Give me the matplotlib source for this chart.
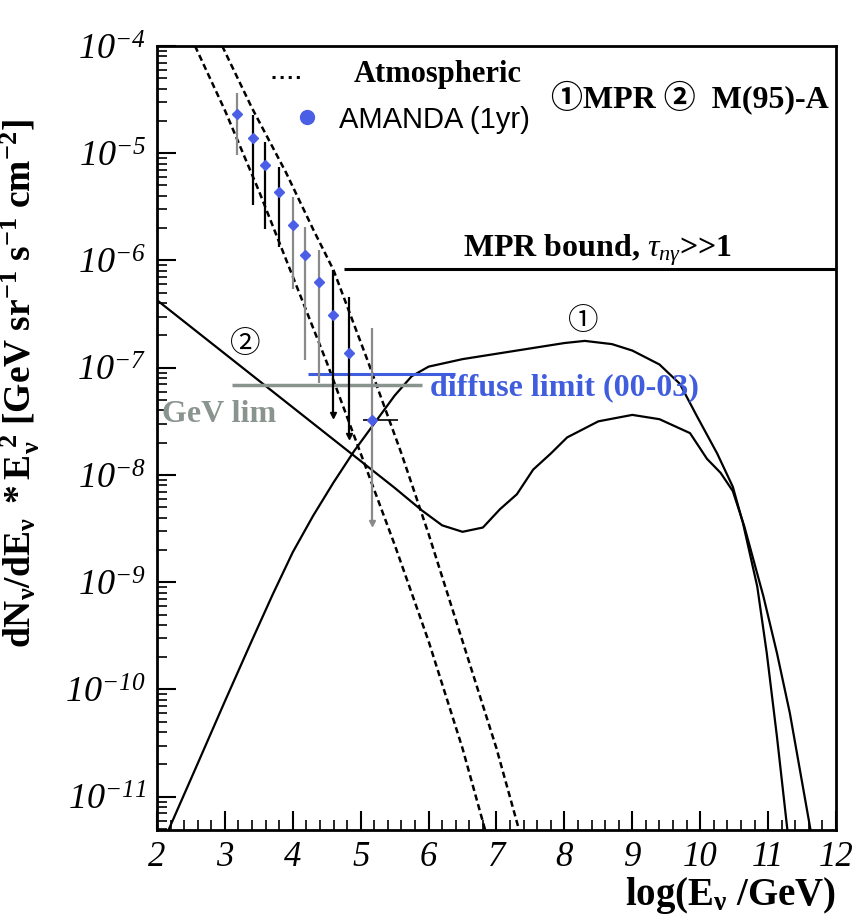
import numpy as np
import matplotlib
matplotlib.use("Agg")
import matplotlib.pyplot as plt
from matplotlib.ticker import FixedLocator, MultipleLocator, LogLocator, NullFormatter

plt.rcParams['mathtext.fontset'] = 'custom'
plt.rcParams['mathtext.rm'] = 'Liberation Serif'
plt.rcParams['mathtext.it'] = 'Liberation Serif:italic'
plt.rcParams['mathtext.bf'] = 'Liberation Serif:bold'
plt.rcParams['mathtext.sf'] = 'Liberation Serif:italic'
serif = ['Liberation Serif', 'Noto Sans CJK JP', 'DejaVu Sans']

# atmospheric band (log10 of flux)
atm_lo_x = [2.56, 3.0, 3.5, 4.0, 4.5, 5.0, 5.5, 6.0, 6.5, 6.85]
atm_lo_exp = [-4.0, -4.6, -5.35, -6.15, -6.95, -7.8, -8.65, -9.55, -10.55, -11.35]
atm_hi_x = [2.96, 3.4, 3.9, 4.3, 4.6, 5.1, 5.6, 6.0, 6.5, 7.0, 7.35]
atm_hi_exp = [-4.0, -4.58, -5.18, -5.71, -6.09, -6.93, -7.8, -8.55, -9.55, -10.55, -11.35]

# (1) MPR
mpr_x = [2.17, 2.6, 3.0, 3.4, 3.7, 4.0, 4.3, 4.6, 4.9, 5.2, 5.5, 5.75, 6.0, 6.5, 7.0, 7.5,
         8.0, 8.3, 8.7, 9.0, 9.4, 9.7, 9.95, 10.25, 10.48, 10.63, 10.84, 10.98, 11.13, 11.3]
mpr_exp = [-11.31, -10.69, -10.11, -9.54, -9.12, -8.72, -8.38, -8.07, -7.78, -7.52, -7.26, -7.08,
           -6.99, -6.92, -6.87, -6.82, -6.77, -6.75, -6.78, -6.84, -6.97, -7.15, -7.45, -7.80,
           -8.11, -8.45, -9.04, -9.66, -10.44, -11.4]

# (2) M(95)-A
m95_x = [2.0, 3.0, 4.0, 5.0, 5.5, 5.9, 6.2, 6.5, 6.8, 7.05, 7.3, 7.54, 7.8, 8.04, 8.5, 9.0,
         9.4, 9.85, 10.1, 10.3, 10.48, 10.65, 10.93, 11.13, 11.32, 11.65]
m95_exp = [-6.37, -6.87, -7.37, -7.87, -8.12, -8.33, -8.47, -8.53, -8.49, -8.32, -8.18, -7.95,
           -7.80, -7.65, -7.50, -7.44, -7.48, -7.61, -7.85, -7.98, -8.15, -8.48, -9.13, -9.66,
           -10.22, -11.4]

# AMANDA (1yr)
amanda_x = [3.18, 3.41, 3.59, 3.79, 4.0, 4.18, 4.39, 4.59, 4.83, 5.16]
amanda_exp = [-4.63, -4.86, -5.11, -5.36, -5.67, -5.95, -6.20, -6.51, -6.86, -7.49]
amanda_top = [-4.44, -4.64, -4.90, -5.13, -5.41, -5.69, -5.90, -6.09, -6.34, -6.63]
amanda_bot = [-5.02, -5.48, -5.71, -5.87, -6.27, -6.93, -7.14, -7.44, -7.64, -8.45]
amanda_limit = [False, False, False, False, False, False, False, True, True, True]
bar_colors = ['#8a8a8a', 'black', 'black', 'black', '#8a8a8a', '#8a8a8a', '#8a8a8a',
              'black', 'black', '#8a8a8a']

# horizontal limits
mpr_bound = (4.75, 12.0, -6.08)
diffuse_lim = (4.22, 6.39, -7.06)
gev_lim = (3.11, 5.90, -7.16)

x_ticks = list(range(2, 13))
y_exps = list(range(-11, -3))

fig = plt.figure(figsize=(8.55, 9.17), dpi=100)
ax = fig.add_axes([0.1836, 0.0949, 0.7942, 0.855])
ax.set_yscale('log')
ax.set_xlim(2, 12)
ax.set_ylim(10**-11.31, 1e-4)

dash = (0, (2.5, 1.5))
ax.plot(atm_lo_x, np.power(10.0, atm_lo_exp), color='black', lw=1.8, ls=dash)
ax.plot(atm_hi_x, np.power(10.0, atm_hi_exp), color='black', lw=1.8, ls=dash)
ax.plot(mpr_x, np.power(10.0, mpr_exp), color='black', lw=1.6)
ax.plot(m95_x, np.power(10.0, m95_exp), color='black', lw=1.6)

ax.hlines(10**mpr_bound[2], mpr_bound[0], mpr_bound[1], color='black', lw=2.2)
ax.hlines(10**gev_lim[2], gev_lim[0], gev_lim[1], color='#8a948f', lw=2.5)
ax.hlines(10**diffuse_lim[2], diffuse_lim[0], diffuse_lim[1], color='#3f5ddc', lw=2.2)

blue = '#4a5fe6'
for i in range(len(amanda_x)):
    ax.vlines(amanda_x[i], 10**amanda_bot[i], 10**amanda_top[i], color=bar_colors[i], lw=1.6)
    if amanda_limit[i]:
        ax.plot(amanda_x[i], 10**amanda_bot[i], marker='v', ms=4, color=bar_colors[i])
ax.hlines(10**amanda_exp[-1], 5.03, 5.55, color='black', lw=1.2)
ax.plot(amanda_x, np.power(10.0, amanda_exp), ls='none', marker='D', ms=5, color=blue)

# axes styling
for s in ax.spines.values():
    s.set_linewidth(2)
ax.yaxis.set_major_locator(FixedLocator([10.0**e for e in y_exps]))
ax.yaxis.set_minor_locator(LogLocator(base=10, subs=np.arange(2, 10)))
ax.yaxis.set_minor_formatter(NullFormatter())
ax.set_yticklabels([r'$\mathsf{10}^{\mathsf{%d}}$' % e for e in y_exps], fontsize=26)
ax.xaxis.set_major_locator(FixedLocator(x_ticks))
ax.xaxis.set_minor_locator(MultipleLocator(0.2))
ax.set_xticklabels([str(v) for v in x_ticks], fontsize=25, family='Liberation Serif', style='italic')
ax.tick_params(which='both', direction='in', top=False, right=False)
ax.tick_params(which='major', length=14, width=1.5, pad=8)
ax.tick_params(which='minor', length=7, width=1.2)

ax.set_ylabel(r'$\mathbf{dN_{\nu}/dE_{\nu}\ *E_{\nu}^{\ 2}\ [GeV\ sr^{-1}\ s^{-1}\ cm^{-2}]}$', fontsize=27)
ax.yaxis.set_label_coords(-0.17, 0.57)
ax.text(1.0, -0.083, r'$\mathbf{log(E_{\nu}\ /GeV)}$', transform=ax.transAxes,
        ha='right', va='center', fontsize=28)

# legend-like annotations
ax.plot([0.169, 0.211], [0.9604, 0.9604], transform=ax.transAxes, color='black', ls=':', lw=2.2)
ax.text(0.413, 0.963, 'Atmospheric', transform=ax.transAxes, ha='center', va='center',
        fontsize=22, fontweight='bold', family=serif)
ax.plot([0.221], [0.909], transform=ax.transAxes, marker='o', ms=10, color=blue, clip_on=False)
ax.text(0.409, 0.906, 'AMANDA (1yr)', transform=ax.transAxes, ha='center', va='center',
        fontsize=21, family='Liberation Sans')
ax.text(0.785, 0.934, '①MPR ②  M(95)-A', transform=ax.transAxes, ha='center', va='center',
        fontsize=23, fontweight='bold', family=serif)

ax.text(8.49, 10**-5.9, r'MPR bound, $\tau_{n\gamma}$>>1', ha='center', va='center',
        fontsize=23, fontweight='bold', family=serif)
ax.text(6.02, 10**-7.19, 'diffuse limit (00-03)', ha='left', va='center', color='#3f5ddc',
        fontsize=23, fontweight='bold', family=serif)
ax.text(2.07, 10**-7.44, 'GeV lim', ha='left', va='center', color='#8a948f',
        fontsize=23, fontweight='bold', family=serif)
ax.text(3.3, 10**-6.79, '②', ha='center', va='center', fontsize=22, family=serif)
ax.text(8.27, 10**-6.58, '①', ha='center', va='center', fontsize=22, family=serif)

fig.savefig('out.png', dpi=100)
